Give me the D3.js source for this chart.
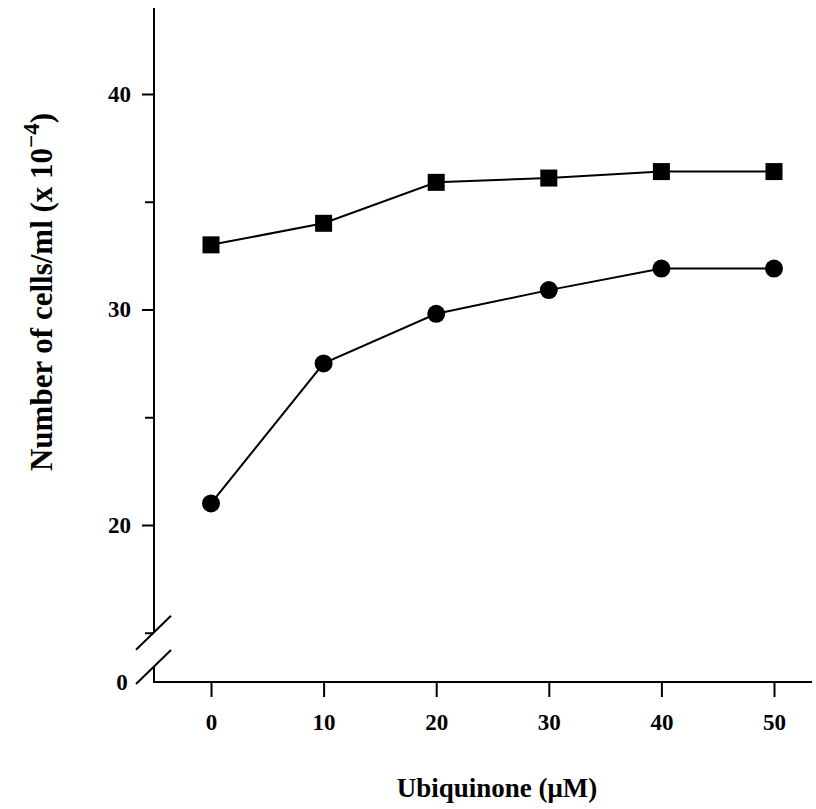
<!DOCTYPE html>
<html>
<head>
<meta charset="utf-8">
<script src="https://cdn.jsdelivr.net/npm/d3@7"></script>
<style>
  body { margin: 0; background: #fff; }
  svg text { font-family: "Liberation Serif", "Times New Roman", serif; font-weight: bold; fill: #000; }
</style>
</head>
<body>
<div id="chart"></div>
<script>
// concentrations (uM)
var doses = [0, 10, 20, 30, 40, 50];
// cells/ml (x 10^-4), square series
var squareVals = [33.0, 34.0, 35.9, 36.1, 36.4, 36.4];
// cells/ml (x 10^-4), circle series
var circleVals = [21.0, 27.5, 29.8, 30.9, 31.9, 31.9];
var xTicks = [0, 10, 20, 30, 40, 50];
var yMajor = [20, 30, 40];
var yMinor = [15, 25, 35];

function init() {
    var w = 816;
    var h = 809;

    var svg = d3.select("#chart")
        .append("svg")
        .attr("width", w)
        .attr("height", h);

    var x = d3.scaleLinear()
        .domain([0, 50])
        .range([211, 774]);

    var y = d3.scaleLinear()
        .domain([20, 40])
        .range([525, 94]);

    var axisX = 154;   // y axis position
    var baseY = 682;   // x axis position (value 0)

    // y axis line (upper part, ends at the break)
    svg.append("line")
        .attr("x1", axisX).attr("x2", axisX)
        .attr("y1", 8).attr("y2", y(15))
        .attr("stroke", "#000").attr("stroke-width", 2);

    // lower stub from break to x axis
    svg.append("line")
        .attr("x1", axisX).attr("x2", axisX)
        .attr("y1", 667).attr("y2", baseY + 1)
        .attr("stroke", "#000").attr("stroke-width", 2);

    // break slashes
    [y(15), 667].forEach(function (cy) {
        svg.append("line")
            .attr("x1", axisX - 18).attr("y1", cy + 17)
            .attr("x2", axisX + 17).attr("y2", cy - 17)
            .attr("stroke", "#000").attr("stroke-width", 2);
    });

    // y ticks
    var yAxis = svg.append("g")
        .attr("transform", "translate(" + axisX + ",0)")
        .call(d3.axisLeft(y).tickValues(yMajor).tickSize(12).tickPadding(11));
    yAxis.select(".domain").remove();
    yAxis.selectAll(".tick line").attr("stroke", "#000").attr("stroke-width", 2);
    yAxis.selectAll(".tick text").attr("font-size", 23).attr("fill", "#000")
        .style("font-family", "Liberation Serif").style("font-weight", "bold");

    var yAxisMinor = svg.append("g")
        .attr("transform", "translate(" + axisX + ",0)")
        .call(d3.axisLeft(y).tickValues(yMinor).tickSize(9).tickFormat(""));
    yAxisMinor.select(".domain").remove();
    yAxisMinor.selectAll(".tick line").attr("stroke", "#000").attr("stroke-width", 2);

    // the "0" on the y axis
    svg.append("text")
        .attr("x", 122).attr("y", baseY + 8)
        .attr("text-anchor", "middle")
        .attr("font-size", 23)
        .text("0");

    // x axis
    svg.append("line")
        .attr("x1", axisX - 1).attr("x2", 812)
        .attr("y1", baseY).attr("y2", baseY)
        .attr("stroke", "#000").attr("stroke-width", 2);

    var xAxis = svg.append("g")
        .attr("transform", "translate(0," + baseY + ")")
        .call(d3.axisBottom(x).tickValues(xTicks).tickSize(15).tickPadding(17));
    xAxis.select(".domain").remove();
    xAxis.selectAll(".tick line").attr("stroke", "#000").attr("stroke-width", 2);
    xAxis.selectAll(".tick text").attr("font-size", 23).attr("fill", "#000")
        .style("font-family", "Liberation Serif").style("font-weight", "bold");

    // lines
    var line = d3.line()
        .x(function (d, i) { return x(doses[i]); })
        .y(function (d) { return y(d); });

    svg.append("path")
        .datum(squareVals)
        .attr("d", line)
        .attr("fill", "none")
        .attr("stroke", "#000")
        .attr("stroke-width", 2);

    svg.append("path")
        .datum(circleVals)
        .attr("d", line)
        .attr("fill", "none")
        .attr("stroke", "#000")
        .attr("stroke-width", 2);

    // markers
    var sq = 17;
    svg.selectAll(".sq")
        .data(squareVals)
        .enter()
        .append("rect")
        .attr("class", "sq")
        .attr("x", function (d, i) { return x(doses[i]) - sq / 2; })
        .attr("y", function (d) { return y(d) - sq / 2; })
        .attr("width", sq)
        .attr("height", sq)
        .attr("fill", "#000");

    svg.selectAll(".dot")
        .data(circleVals)
        .enter()
        .append("circle")
        .attr("class", "dot")
        .attr("cx", function (d, i) { return x(doses[i]); })
        .attr("cy", function (d) { return y(d); })
        .attr("r", 9)
        .attr("fill", "#000");

    // axis titles
    svg.append("text")
        .attr("x", 497).attr("y", 797)
        .attr("text-anchor", "middle")
        .attr("font-size", 27)
        .text("Ubiquinone (\u03BCM)");

    var yt = svg.append("text")
        .attr("transform", "translate(52,292) rotate(-90)")
        .attr("text-anchor", "middle")
        .attr("font-size", 31);
    yt.append("tspan").text("Number of cells/ml (x 10");
    yt.append("tspan").attr("dy", -13).attr("font-size", 23).text("\u22124");
    yt.append("tspan").attr("dy", 13).text(")");
}

window.onload = init;
</script>
</body>
</html>
